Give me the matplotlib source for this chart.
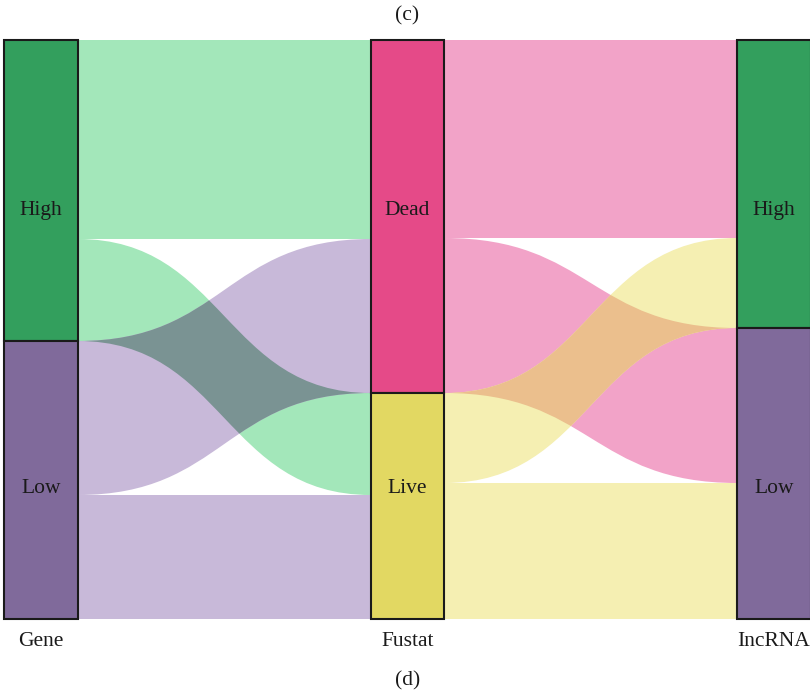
import matplotlib
matplotlib.use("Agg")
import matplotlib.pyplot as plt
from matplotlib.path import Path
from matplotlib.patches import PathPatch, Rectangle
import numpy as np

# ---- data -------------------------------------------------------------
axis_names = ["Gene", "Fustat", "IncRNA"]
gene_levels = ["High", "Low"]
fustat_levels = ["Dead", "Live"]
lnc_levels = ["High", "Low"]

# flow counts: rows = left axis level, columns = right axis level
gene_to_fustat = [[199, 102],
                  [154, 124]]
fustat_to_lnc = [[198, 155],
                 [90, 136]]

# ---- styling ------------------------------------------------------------
stratum_colors = {
    "Gene": ["#339F5D", "#806A9B"],
    "Fustat": ["#E54A88", "#E2D862"],
    "IncRNA": ["#339F5D", "#806A9B"],
}
flow_colors = [
    ["#A3E7BA", "#C8B9D9"],   # coloured by Gene level
    ["#F2A3C8", "#F5EFB2"],   # coloured by Fustat level
]
cross_colors = ["#7A9393", "#EBBF8D"]
serif = "Liberation Serif"

W, H = 810, 694
fig = plt.figure(figsize=(W / 100, H / 100), dpi=100)
ax = fig.add_axes([0, 0, 1, 1])

m1 = np.array(gene_to_fustat, dtype=float)
m2 = np.array(fustat_to_lnc, dtype=float)
totals = [m1.sum(axis=1), m1.sum(axis=0), m2.sum(axis=0)]
levels = [gene_levels, fustat_levels, lnc_levels]
N = m1.sum()

spacing_px = 366.5
bar_w = 73.5 / spacing_px
ax.set_xlim(-41 / spacing_px, (W - 41) / spacing_px)
scale = N / 579.0
ax.set_ylim(N + 75 * scale, -40 * scale)
ax.axis("off")


def flow_path(x0, x1, a0, a1, b0, b1):
    """Ribbon from [a0,a1] at x0 to [b0,b1] at x1 with bezier edges."""
    xm = (x0 + x1) / 2
    verts = [(x0, a0), (xm, a0), (xm, b0), (x1, b0),
             (x1, b1), (xm, b1), (xm, a1), (x0, a1), (x0, a0)]
    codes = [Path.MOVETO, Path.CURVE4, Path.CURVE4, Path.CURVE4,
             Path.LINETO, Path.CURVE4, Path.CURVE4, Path.CURVE4,
             Path.CLOSEPOLY]
    return Path(verts, codes)


def draw_segment(mat, xi, colors, cross):
    x0 = xi + bar_w / 2
    x1 = xi + 1 - bar_w / 2
    n_src, n_dst = mat.shape
    src_top = np.concatenate([[0], np.cumsum(mat.sum(axis=1))[:-1]])
    dst_top = np.concatenate([[0], np.cumsum(mat.sum(axis=0))[:-1]])
    ribbons = []
    for i in range(n_src):
        for j in range(n_dst):
            v = mat[i, j]
            a0 = src_top[i] + mat[i, :j].sum()
            b0 = dst_top[j] + mat[:i, j].sum()
            p = flow_path(x0, x1, a0, a0 + v, b0, b0 + v)
            ribbons.append((i, j, p))
            ax.add_patch(PathPatch(p, facecolor=colors[i], edgecolor="none",
                                   zorder=1))
    # shade regions where ribbons from different sources cross
    for (i1, j1, p1) in ribbons:
        for (i2, j2, p2) in ribbons:
            if i1 < i2 and j1 > j2:
                clip = PathPatch(p1, transform=ax.transData,
                                 facecolor="none", edgecolor="none")
                over = PathPatch(p2, facecolor=cross, edgecolor="none",
                                 zorder=2)
                ax.add_patch(over)
                over.set_clip_path(clip)


draw_segment(m1, 0, flow_colors[0], cross_colors[0])
draw_segment(m2, 1, flow_colors[1], cross_colors[1])

label_frac = [0.294, 0.775]
for k, name in enumerate(axis_names):
    y = 0.0
    for li, (lev, cnt) in enumerate(zip(levels[k], totals[k])):
        ax.add_patch(Rectangle((k - bar_w / 2, y), bar_w, cnt,
                               facecolor=stratum_colors[name][li],
                               edgecolor="#1a1a1a", linewidth=1.5, zorder=3))
        ax.text(k, label_frac[li] * N, lev, ha="center", va="center",
                fontsize=15.5, family=serif, color="#1a1a1a", zorder=4)
        y += cnt
    ax.text(k, N + 23 * scale, name, ha="center", va="center",
            fontsize=15.5, family=serif, color="#1a1a1a")

ax.text(1, -24 * scale, "(c)", ha="center", va="center", fontsize=15.5,
        family=serif, color="#1a1a1a")
ax.text(1, N + 62 * scale, "(d)", ha="center", va="center", fontsize=15.5,
        family=serif, color="#1a1a1a")

fig.savefig("out.png", dpi=100)
